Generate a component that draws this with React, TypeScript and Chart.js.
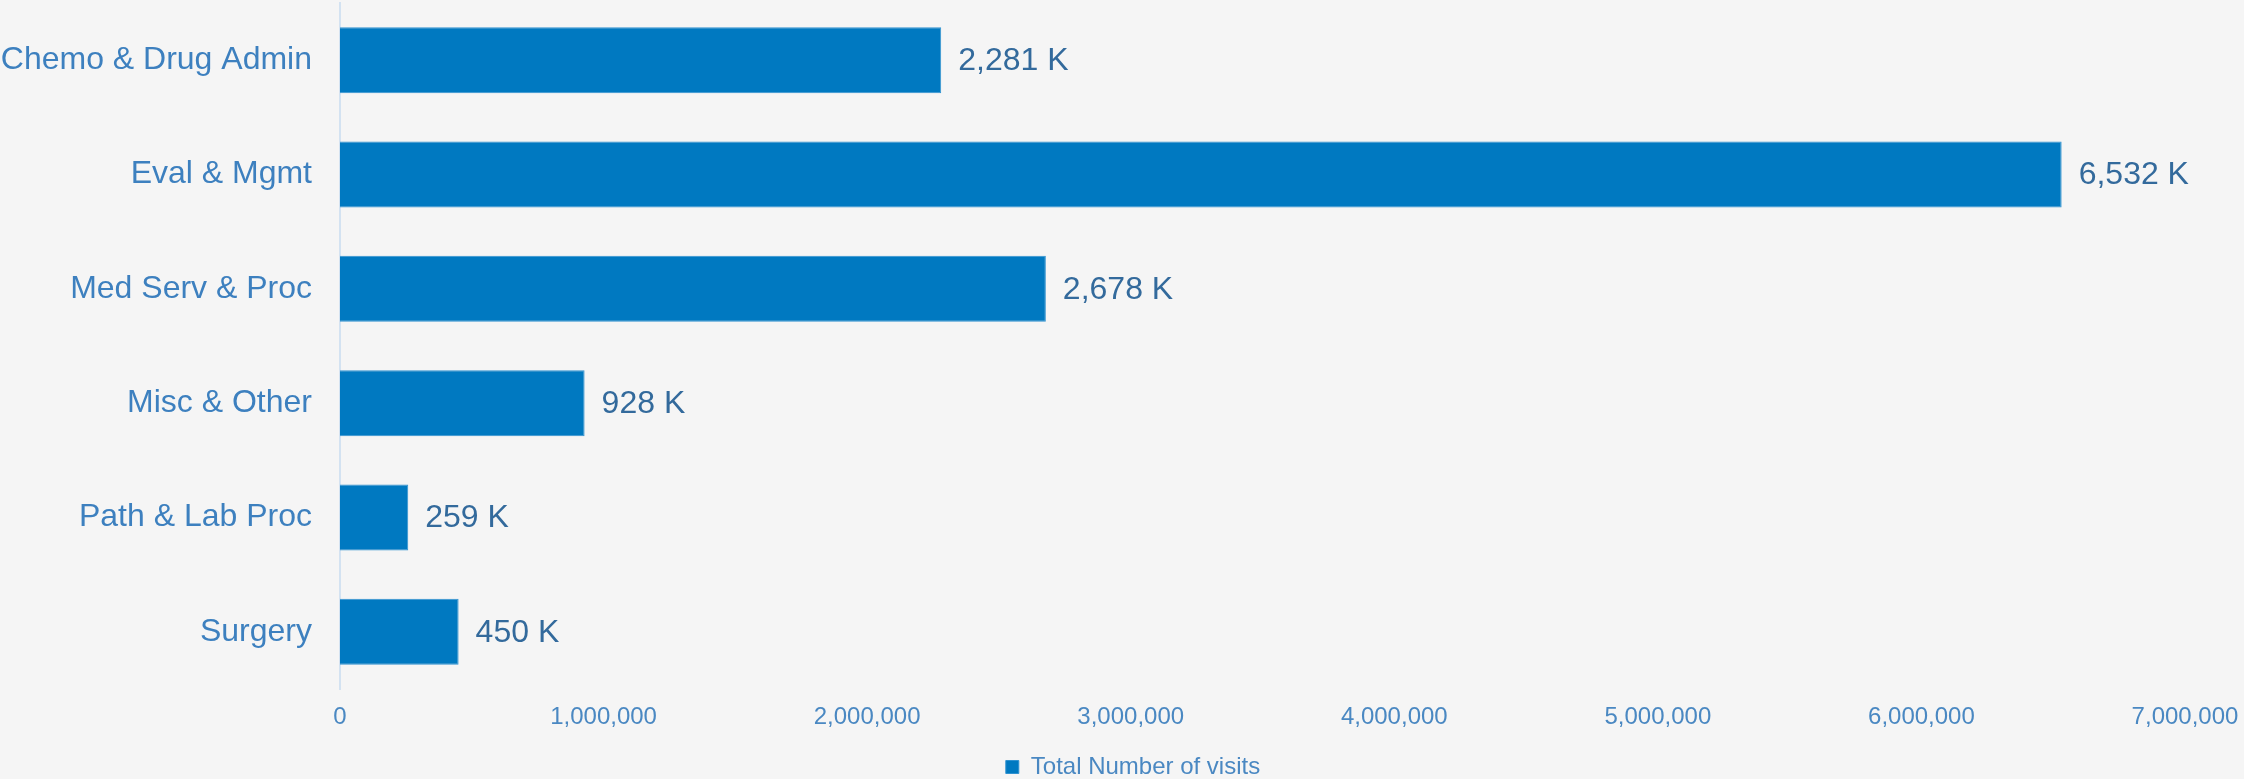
import React, { useEffect, useRef } from "react";
import { Chart, registerables } from "chart.js";

Chart.register(...registerables);

const categories = [
  "Chemo & Drug Admin",
  "Eval & Mgmt",
  "Med Serv & Proc",
  "Misc & Other",
  "Path & Lab Proc",
  "Surgery",
];
const visits = [2281000, 6532000, 2678000, 928000, 259000, 450000];
const seriesName = "Total Number of visits";
const xMax = 7000000;
const xStep = 1000000;

const FONT = "'Liberation Sans', Arial, sans-serif";
const BAR = "#0079c1";
const CAT_COLOR = "#3d80bf";
const TICK_COLOR = "#4a88c2";
const VALUE_COLOR = "#336a9c";
const BG = "#f5f5f5";

const valueLabels = {
  id: "valueLabels",
  afterDatasetsDraw(chart: any) {
    const ctx = chart.ctx;
    const meta = chart.getDatasetMeta(0);
    ctx.save();
    ctx.font = `32px ${FONT}`;
    ctx.fillStyle = VALUE_COLOR;
    ctx.textAlign = "left";
    ctx.textBaseline = "middle";
    meta.data.forEach((el: any, i: number) => {
      const v = chart.data.datasets[0].data[i] as number;
      const txt = Math.round(v / 1000).toLocaleString("en-US") + " K";
      ctx.fillText(txt, el.x + 17, el.y + 1);
    });
    ctx.restore();
  },
};

const legendShift = {
  id: "legendShift",
  afterLayout(chart: any) {
    if (chart.legend) chart.legend.left = 22;
  },
};

export default function App() {
  const ref = useRef<HTMLCanvasElement>(null);
  useEffect(() => {
    document.body.style.margin = "0";
    document.body.style.background = BG;
    const chart = new Chart(ref.current!, {
      type: "bar",
      data: {
        labels: categories,
        datasets: [
          {
            label: seriesName,
            data: visits,
            backgroundColor: BAR,
            borderColor: "#3092d0",
            borderWidth: 1,
            barPercentage: 0.577,
            categoryPercentage: 1,
          },
        ],
      },
      options: {
        indexAxis: "y",
        animation: false,
        responsive: false,
        maintainAspectRatio: false,
        layout: { padding: { top: 3, right: 0, left: 0, bottom: 0 } },
        scales: {
          x: {
            min: 0,
            max: xMax,
            grid: { display: false, drawTicks: false },
            border: { display: false },
            ticks: {
              stepSize: xStep,
              padding: 14,
              color: TICK_COLOR,
              font: { family: FONT, size: 24 },
              maxRotation: 0,
              callback: (v: any) => Number(v).toLocaleString("en-US"),
            },
            afterFit: (s: any) => {
              s.height = 66;
              s.paddingLeft = 0;
              s.paddingRight = 59;
            },
          },
          y: {
            grid: { display: false, drawTicks: false },
            border: { display: true, color: "#d3e2f1", width: 2 },
            ticks: {
              padding: 28,
              color: CAT_COLOR,
              font: { family: FONT, size: 32 },
            },
            afterFit: (s: any) => {
              s.width = 340;
              s.paddingTop = 0;
              s.paddingBottom = 0;
            },
          },
        },
        plugins: {
          legend: {
            position: "bottom",
            maxHeight: 24,
            labels: {
              boxWidth: 13,
              boxHeight: 13,
              padding: 0,
              color: TICK_COLOR,
              font: { family: FONT, size: 24 },
            },
          },
          tooltip: { enabled: false },
        },
      },
      plugins: [valueLabels, legendShift],
    });
    return () => chart.destroy();
  }, []);
  return (
    <div style={{ width: 2244, height: 779, background: BG }}>
      <canvas ref={ref} width={2244} height={779} style={{ display: "block" }} />
    </div>
  );
}
